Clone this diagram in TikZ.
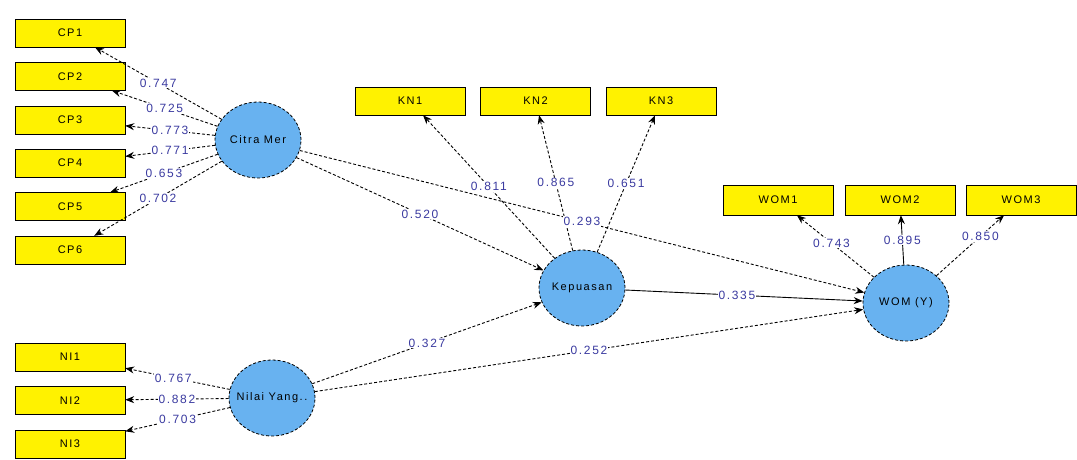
\documentclass[tikz,border=0pt]{standalone}
\usepackage{fontspec}
\setmainfont{Liberation Sans}[LetterSpace=14]
\usetikzlibrary{shapes.geometric,arrows.meta}

\definecolor{latentblue}{RGB}{104,178,240}
\definecolor{coefblue}{RGB}{58,58,160}

\begin{document}
\begin{tikzpicture}[x=1pt, y=-1pt, node distance=43.4pt,
    indicator/.style={rectangle, draw, fill=yellow, minimum width=110pt, minimum height=28pt, inner sep=0pt, font=\fontsize{11}{13}\selectfont},
    latent/.style={ellipse, draw=black, densely dashed, line width=0.8pt, fill=latentblue, minimum width=86pt, minimum height=76pt, inner sep=0pt, font=\fontsize{11}{13}\selectfont},
    loading/.style={-{Stealth[length=9pt,width=7pt]}, densely dashed, line width=0.9pt, black},
    coef/.style={text=coefblue, fill=white, inner sep=1pt, font=\fontsize{12}{14}\selectfont}]
    \useasboundingbox (0,0) rectangle (1077,459);

    % Latent variables
    \node [latent] (citra) at (258,140) {\makebox[0pt]{Citra Mer}};
    \node [latent] (kepuasan) at (582,288) {\makebox[0pt]{Kepuasan}};
    \node [latent] (nilai) at (272,398) {\makebox[0pt]{Nilai Yang..}};
    \node [latent] (wom) at (906,303) {\makebox[0pt]{WOM (Y)}};

    % Indicators of Citra Mer
    \node [indicator] (cp1) at (70,33) {CP1};
    \node [indicator, below of=cp1] (cp2) {CP2};
    \node [indicator, below of=cp2] (cp3) {CP3};
    \node [indicator, below of=cp3] (cp4) {CP4};
    \node [indicator, below of=cp4] (cp5) {CP5};
    \node [indicator, below of=cp5] (cp6) {CP6};

    % Indicators of Kepuasan
    \node [indicator] (kn1) at (410,101) {KN1};
    \node [indicator, right of=kn1, node distance=125.5pt] (kn2) {KN2};
    \node [indicator, right of=kn2, node distance=125.5pt] (kn3) {KN3};

    % Indicators of WOM
    \node [indicator, minimum height=30pt] (wom1) at (778,200) {WOM1};
    \node [indicator, minimum height=30pt, right of=wom1, node distance=122pt] (wom2) {WOM2};
    \node [indicator, minimum height=30pt, right of=wom2, node distance=121pt] (wom3) {WOM3};

    % Indicators of Nilai Yang..
    \node [indicator] (ni1) at (70,357) {NI1};
    \node [indicator, below of=ni1] (ni2) {NI2};
    \node [indicator, below of=ni2] (ni3) {NI3};

    % Outer loadings
    \draw [loading] (citra) -- node[coef] {0.747} (cp1);
    \draw [loading] (citra) -- node[coef] {0.725} (cp2);
    \draw [loading] (citra) -- node[coef] {0.773} (cp3);
    \draw [loading] (citra) -- node[coef] {0.771} (cp4);
    \draw [loading] (citra) -- node[coef] {0.653} (cp5);
    \draw [loading] (citra) -- node[coef] {0.702} (cp6);

    \draw [loading] (kepuasan) -- node[coef] {0.811} (kn1);
    \draw [loading] (kepuasan) -- node[coef] {0.865} (kn2);
    \draw [loading] (kepuasan) -- node[coef] {0.651} (kn3);

    \draw [loading] (wom) -- node[coef, pos=0.55] {0.743} (wom1);
    \draw [loading, solid] (wom) -- node[coef] {0.895} (wom2);
    \draw [loading] (wom) -- node[coef, pos=0.65] {0.850} (wom3);

    \draw [loading] (nilai) -- node[coef, pos=0.54] {0.767} (ni1);
    \draw [loading] (nilai) -- node[coef] {0.882} (ni2);
    \draw [loading] (nilai) -- node[coef] {0.703} (ni3);

    % Path coefficients
    \draw [loading] (citra) -- node[coef] {0.520} (kepuasan);
    \draw [loading] (citra) -- node[coef] {0.293} (wom);
    \draw [loading, solid] (kepuasan) -- node[coef, pos=0.47] {0.335} (wom);
    \draw [loading] (nilai) -- node[coef] {0.327} (kepuasan);
    \draw [loading] (nilai) -- node[coef] {0.252} (wom);
\end{tikzpicture}
\end{document}
